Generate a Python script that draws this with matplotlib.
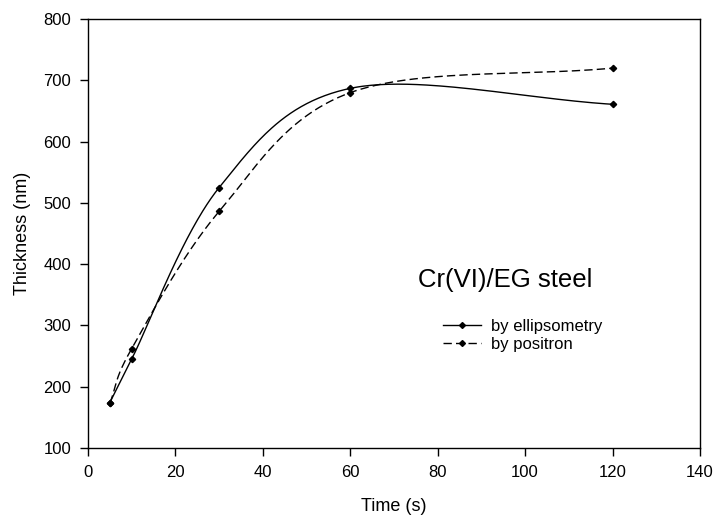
"""Film thickness vs. immersion time, Cr(VI)/EG steel."""

import matplotlib
matplotlib.use("Agg")
import matplotlib.pyplot as plt
import numpy as np

plt.rcParams["font.family"] = ["Liberation Sans", "DejaVu Sans"]

# data
time_s = [5, 10, 30, 60, 120]
thick_ellips = [174, 245, 525, 687, 661]
thick_positron = [173, 262, 486, 680, 720]

XLIM = (0, 140)
YLIM = (100, 800)


def smooth_line(ax, x, y, n=80):
    """Uniform Catmull-Rom through the points, built in screen space.

    Only used to draw the connecting curve; the markers sit on the raw data.
    """
    bb = ax.get_window_extent()
    kx = bb.width / (XLIM[1] - XLIM[0])
    ky = bb.height / (YLIM[1] - YLIM[0])
    P = np.column_stack([(np.asarray(x, float) - XLIM[0]) * kx,
                         (np.asarray(y, float) - YLIM[0]) * ky])
    P = np.vstack([2 * P[0] - P[1], P, 2 * P[-1] - P[-2]])
    t = np.linspace(0, 1, n)[:, None]
    segs = []
    for i in range(1, len(P) - 2):
        p0, p1, p2, p3 = P[i - 1], P[i], P[i + 1], P[i + 2]
        segs.append(0.5 * (2 * p1 + (p2 - p0) * t
                           + (2 * p0 - 5 * p1 + 4 * p2 - p3) * t ** 2
                           + (3 * p1 - p0 - 3 * p2 + p3) * t ** 3))
    c = np.vstack(segs)
    return XLIM[0] + c[:, 0] / kx, YLIM[0] + c[:, 1] / ky


fig, ax = plt.subplots(figsize=(7.15, 5.17), dpi=100)
fig.subplots_adjust(left=0.123, right=0.979, top=0.963, bottom=0.1335)

for ys, ls, label in ((thick_ellips, "-", "by ellipsometry"),
                      (thick_positron, (0, (6, 3)), "by positron")):
    lx, ly = smooth_line(ax, time_s, ys)
    ax.plot(lx, ly, color="black", linestyle=ls, linewidth=1.0)
    ax.plot(time_s, ys, linestyle="none", marker="D", markersize=3.2,
            color="black")
    # proxy for legend
    ax.plot([], [], color="black", linestyle=ls, linewidth=1.0,
            marker="D", markersize=3, label=label)

ax.set_xlim(*XLIM)
ax.set_ylim(*YLIM)
ax.set_xticks(np.arange(0, 141, 20))
ax.set_yticks(np.arange(100, 801, 100))
ax.tick_params(direction="out", length=6, width=1, labelsize=12, pad=6,
               top=False, right=False)
for sp in ax.spines.values():
    sp.set_linewidth(1.0)
ax.set_xlabel("Time (s)", fontsize=13, labelpad=13)
ax.set_ylabel("Thickness (nm)", fontsize=13, labelpad=9)

ax.text(0.539, 0.392, "Cr(VI)/EG steel", transform=ax.transAxes,
        fontsize=18.5, ha="left", va="center")
ax.legend(loc="upper left", bbox_to_anchor=(0.58, 0.30), frameon=False,
          fontsize=12, handlelength=2.3, handletextpad=0.6,
          labelspacing=0.15, borderpad=0, borderaxespad=0)

fig.savefig("out.png", dpi=100)
